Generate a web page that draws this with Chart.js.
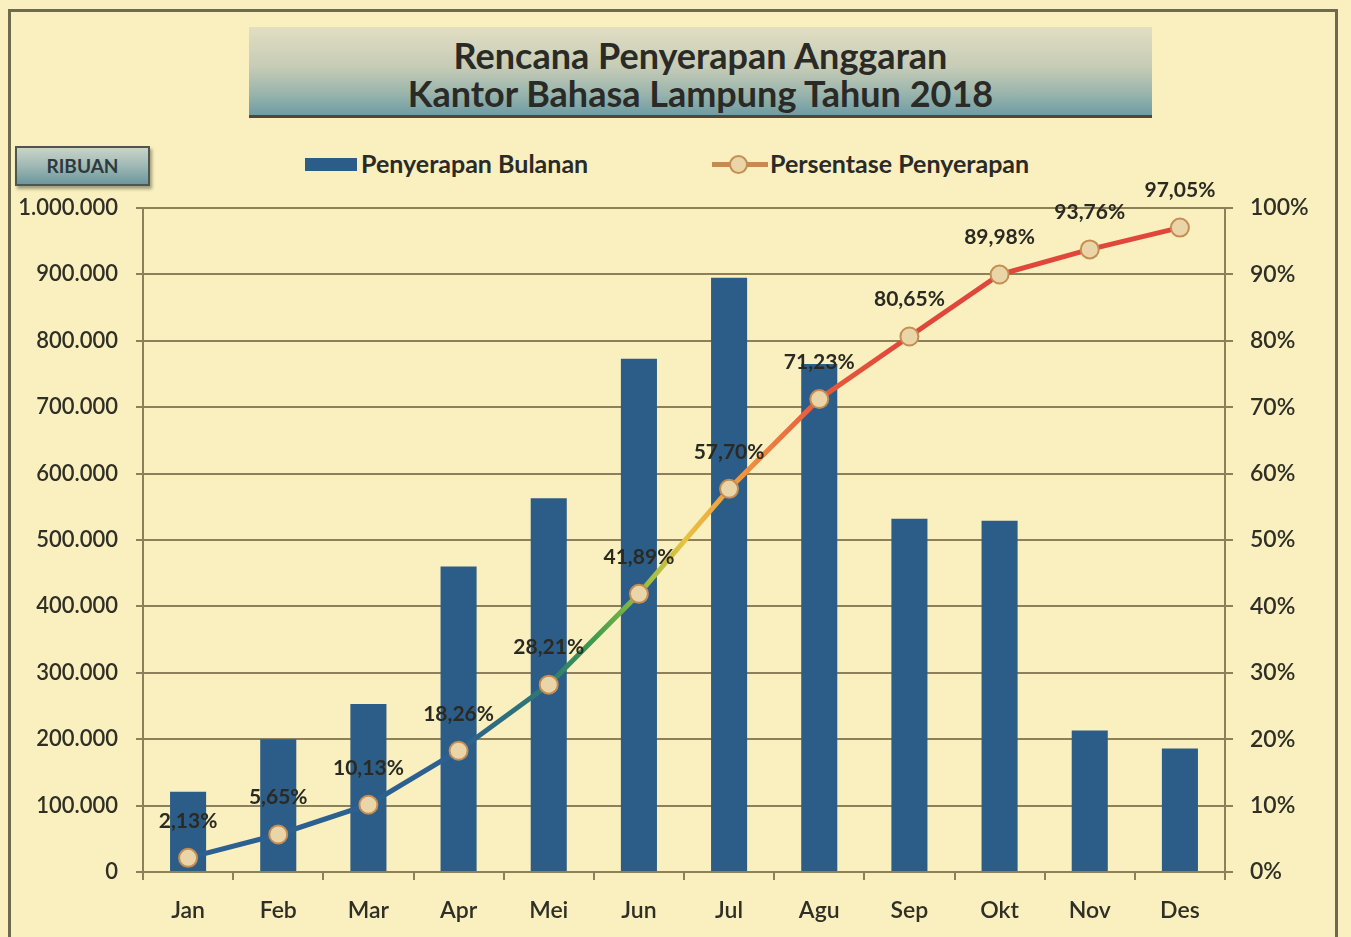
<!DOCTYPE html>
<html>
<head>
<meta charset="utf-8">
<script src="https://cdn.jsdelivr.net/npm/chart.js@4.4.1/dist/chart.umd.min.js"></script>
<style>
  html, body { margin:0; padding:0; background:#f9efbf; }
  #wrap { position:relative; width:1351px; height:937px; overflow:hidden; background:#f9efbf; font-family: Lato, "Open Sans", sans-serif; }
  #frame { position:absolute; left:8px; top:9px; width:1330px; height:960px; border:3px solid #6f6a4e; box-sizing:border-box; }
  #title { position:absolute; left:249px; top:27px; width:903px; height:91px; box-sizing:border-box;
    background:linear-gradient(to bottom, #e2dec2 0%, #c6ccb6 45%, #9bb5ad 75%, #6f9ca4 100%);
    border-bottom:3px solid #4b4a3a; text-align:center; color:#2a2a26; font-weight:bold; font-size:36px; line-height:38px; padding-top:9px; }
  #ribuan { position:absolute; left:15px; top:146px; width:135px; height:40px; box-sizing:border-box;
    background:linear-gradient(to bottom, #c9d4c8 0%, #9fb8b4 50%, #6b979c 100%);
    border:2px solid #4e5650; box-shadow:2px 3px 3px rgba(60,60,40,0.45);
    text-align:center; font-weight:bold; font-size:19px; line-height:36px; color:#2c3a3e; }
  .leg { position:absolute; top:149px; font-weight:bold; font-size:25px; line-height:28px; color:#2a2a26; }
  #legbar { position:absolute; left:305px; top:158px; width:52px; height:13px; background:#2c5d88; }
  #legline { position:absolute; left:712px; top:162px; width:56px; height:5px; background:#c98a50; }
  #legdot { position:absolute; left:729px; top:155px; width:15px; height:15px; border-radius:50%; background:#e9d5a8; border:2px solid #c48e52; }
  canvas { position:absolute; left:0; top:0; }
</style>
</head>
<body>
<div id="wrap">
  <div id="frame"></div>
  <div id="title">Rencana Penyerapan Anggaran<br>Kantor Bahasa Lampung Tahun 2018</div>
  <div id="ribuan">RIBUAN</div>
  <div id="legbar"></div>
  <div class="leg" style="left:361px;">Penyerapan Bulanan</div>
  <div id="legline"></div>
  <div id="legdot"></div>
  <div class="leg" style="left:770px;">Persentase Penyerapan</div>
  <canvas id="c" width="1351" height="937"></canvas>
</div>
<script>
const categories = ['Jan','Feb','Mar','Apr','Mei','Jun','Jul','Agu','Sep','Okt','Nov','Des'];
const monthlyAbsorption = [121000, 200000, 253000, 460000, 563000, 773000, 895000, 765000, 532000, 529000, 213000, 186000];
const cumulativePercent = [2.13, 5.65, 10.13, 18.26, 28.21, 41.89, 57.70, 71.23, 80.65, 89.98, 93.76, 97.05];
const leftTickMax = 1000000, leftTickStep = 100000;
const rightTickMax = 100, rightTickStep = 10;

const FONT = 'Lato, "Open Sans", sans-serif';
const TXT = '#2f2f26';
const GRID = '#8c7f5a';

function fmtThousands(v){ return String(v).replace(/\B(?=(\d{3})+(?!\d))/g, '.'); }
function fmtPct(v){ return v.toFixed(2).replace('.', ',') + '%'; }

function lineGradient(ctx){
  const chart = ctx.chart;
  const ca = chart.chartArea;
  if (!ca) return '#2c6090';
  const xs = chart.scales.x;
  const px = i => xs.getPixelForValue(i);
  const g = chart.ctx.createLinearGradient(ca.left, 0, ca.right, 0);
  const w = ca.right - ca.left;
  const stop = (x, c) => g.addColorStop(Math.min(1, Math.max(0, (x - ca.left) / w)), c);
  stop(ca.left, '#2c6090');
  stop(px(3), '#2c6090');
  stop(px(4), '#2f7a72');
  stop((px(4)+px(5))/2, '#3f9a4c');
  stop(px(5), '#8fbc44');
  stop((px(5)+px(6))/2, '#e8c23e');
  stop(px(6), '#f0a040');
  stop((px(6)+px(7))/2, '#ec7a40');
  stop(px(7), '#e65a3a');
  stop(px(8), '#e0463a');
  stop(ca.right, '#e0463a');
  return g;
}

const labelPlugin = {
  id: 'pctLabels',
  afterDatasetsDraw(chart){
    const meta = chart.getDatasetMeta(1);
    const c = chart.ctx;
    c.save();
    c.font = 'bold 21px ' + FONT;
    c.fillStyle = '#2a2a22';
    c.textAlign = 'center';
    c.textBaseline = 'middle';
    meta.data.forEach((pt, i) => {
      c.fillText(fmtPct(cumulativePercent[i]), pt.x, pt.y - 37);
    });
    c.restore();
  }
};

new Chart(document.getElementById('c'), {
  data: {
    labels: categories,
    datasets: [
      { type:'bar', label:'Penyerapan Bulanan', data: monthlyAbsorption, yAxisID:'y',
        backgroundColor:'#2c5d88', barPercentage:0.4, categoryPercentage:1.0, order:2 },
      { type:'line', label:'Persentase Penyerapan', data: cumulativePercent, yAxisID:'y1',
        borderColor: lineGradient, borderWidth:5, tension:0,
        pointRadius:9, pointBackgroundColor:'#e9d5a8', pointBorderColor:'#c48e52', pointBorderWidth:2,
        order:1 }
    ]
  },
  options: {
    responsive:false, animation:false,
    layout:{ padding:{ top:208, bottom:0, left:0, right:0 } },
    plugins:{ legend:{ display:false }, title:{ display:false }, tooltip:{ enabled:false } },
    scales:{
      x:{
        offset:true,
        grid:{ offset:true, drawOnChartArea:false, color:GRID, lineWidth:2, tickLength:8 },
        border:{ color:GRID, width:2 },
        ticks:{ color:TXT, font:{ family:FONT, size:23, weight:'600' }, padding:17 },
        afterFit(s){ s.height = 65; }
      },
      y:{
        position:'left', min:0, max:leftTickMax,
        grid:{ color:GRID, lineWidth:2, tickLength:7 },
        border:{ color:GRID, width:2 },
        ticks:{ stepSize:leftTickStep, color:TXT, font:{ family:FONT, size:22, weight:'600' }, padding:18,
          callback:v => fmtThousands(v) },
        afterFit(s){ s.width = 143; }
      },
      y1:{
        position:'right', min:0, max:rightTickMax,
        grid:{ drawOnChartArea:false, color:GRID, lineWidth:2, tickLength:8 },
        border:{ color:GRID, width:2 },
        ticks:{ stepSize:rightTickStep, color:TXT, font:{ family:FONT, size:23, weight:'600' }, padding:17,
          callback:v => v + '%' },
        afterFit(s){ s.width = 126; }
      }
    }
  },
  plugins:[labelPlugin]
});
</script>
</body>
</html>
